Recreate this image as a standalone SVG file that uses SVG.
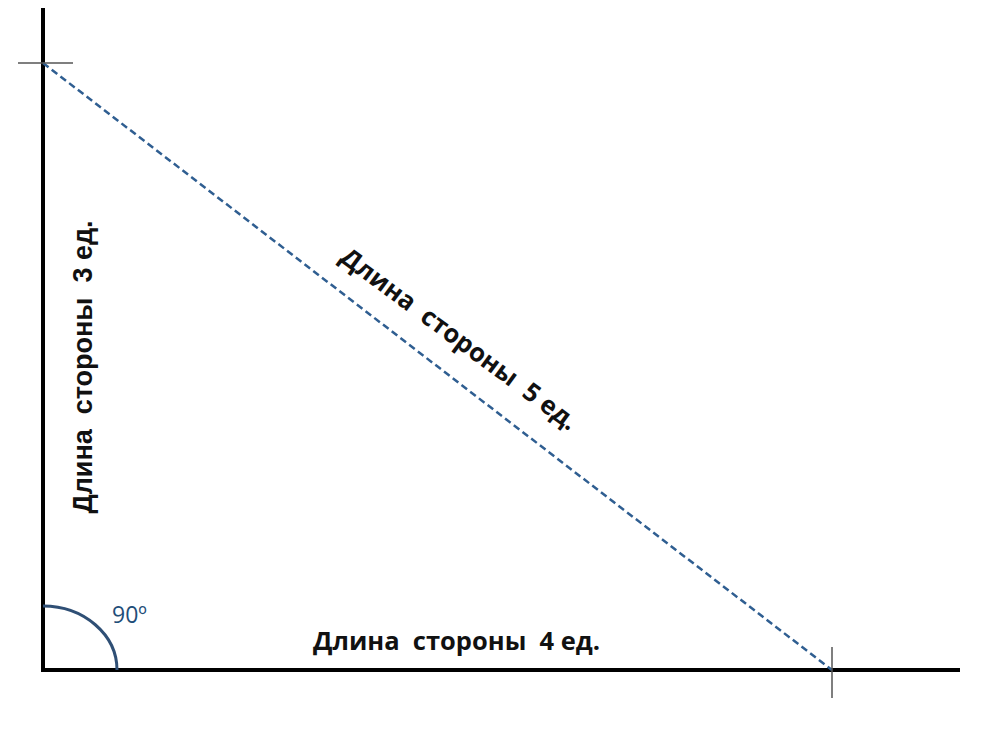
<svg xmlns="http://www.w3.org/2000/svg" width="992" height="730" viewBox="0 0 992 730">
<style>
.axis{stroke:#000;stroke-width:4;fill:none}
.tick{stroke:#555;stroke-width:1.5;fill:none}
.hyp{stroke:#2f5e91;stroke-width:2.5;stroke-dasharray:7,4;fill:none}
.arc{stroke:#2f4f75;stroke-width:3;fill:none}
.lbl{font-family:"Open Sans","Liberation Sans",sans-serif;font-weight:bold;font-size:25.5px;fill:#111;white-space:pre}
</style>
<rect width="992" height="730" fill="#fff"/>
<g id="connectors">
<line class="axis" x1="43" y1="8" x2="43" y2="672"/>
<line class="axis" x1="41" y1="670" x2="960" y2="670"/>
<line class="hyp" x1="43" y1="63" x2="832" y2="670"/>
<path class="arc" d="M43,606 A74,64 0 0 1 117,670"/>
</g>
<g id="tick-top"><line class="tick" x1="18" y1="63" x2="73" y2="63"/></g>
<g id="tick-bottom"><line class="tick" x1="832" y1="647" x2="832" y2="698"/></g>
<g id="angle-label"><text x="112" y="623" font-family="'Open Sans','Liberation Sans',sans-serif" font-size="23" fill="#1f4e79">90º</text></g>
<g id="label-side4"><text class="lbl" x="313" y="650">Длина  стороны  4 ед.</text></g>
<g id="label-side3"><text class="lbl" style="font-family:'Liberation Sans',sans-serif;font-size:27px" transform="translate(92,367) rotate(-90)" text-anchor="middle">Длина  стороны  3 ед.</text></g>
<g id="label-side5"><text class="lbl" transform="translate(454,346) rotate(36.5)" text-anchor="middle">Длина  стороны  5 ед.</text></g>
</svg>
